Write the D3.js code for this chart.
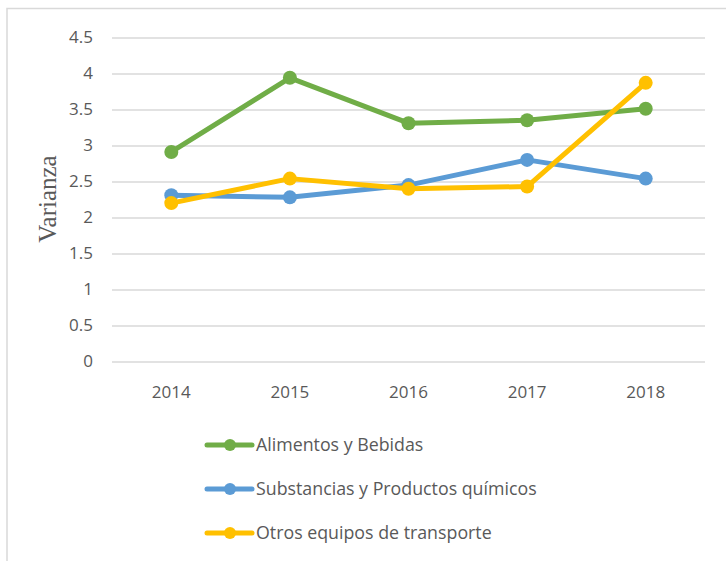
<!DOCTYPE html>
<html>
<head>
<meta charset="utf-8">
<script src="https://cdn.jsdelivr.net/npm/d3@7"></script>
<style>
  html, body { margin: 0; padding: 0; background: #fff; }
  svg { display: block; }
</style>
</head>
<body>
<svg id="chart" width="726" height="561"></svg>
<script>
const years = ["2014", "2015", "2016", "2017", "2018"];
const yTicks = [0, 0.5, 1, 1.5, 2, 2.5, 3, 3.5, 4, 4.5];
const seriesNames = ["Alimentos y Bebidas", "Substancias y Productos químicos", "Otros equipos de transporte"];
const alimentos = [2.91, 3.94, 3.31, 3.35, 3.51];
const substancias = [2.31, 2.28, 2.45, 2.80, 2.54];
const otros = [2.20, 2.54, 2.40, 2.43, 3.87];
const colors = ["#70AD47", "#5B9BD5", "#FFC000"];
const yLabel = "Varianza";

const series = [alimentos, substancias, otros].map((v, i) => ({ name: seriesNames[i], values: v, color: colors[i] }));

const svg = d3.select("#chart");
const textColor = "#595959";
const font = "'Open Sans', sans-serif";

// chart frame
svg.append("path")
  .attr("d", "M7,561 L7,8.5 L726,8.5")
  .attr("fill", "none").attr("stroke", "#d9d9d9").attr("stroke-width", 1.5);

const x = d3.scaleBand().domain(years).range([112, 705]);
const y = d3.scaleLinear().domain([0, 4.5]).range([361.5, 37.5]);

// gridlines
const yAxis = d3.axisLeft(y).tickValues(yTicks).tickSize(-(705 - 112)).tickPadding(19)
  .tickFormat(d => String(d));
const gy = svg.append("g").attr("transform", "translate(112,0)").call(yAxis);
gy.select(".domain").remove();
gy.selectAll(".tick line").attr("stroke", "#d9d9d9").attr("stroke-width", 1.5);
gy.selectAll(".tick text").attr("fill", textColor).style("font-family", font).style("font-size", "17px");

// x axis labels
const xAxis = d3.axisBottom(x).tickSize(0).tickPadding(24);
const gx = svg.append("g").attr("transform", "translate(0,361.5)").call(xAxis);
gx.select(".domain").remove();
gx.selectAll(".tick text").attr("fill", textColor).style("font-family", font).style("font-size", "17px");

// y label
svg.append("text")
  .attr("transform", "translate(56,199) rotate(-90)")
  .attr("text-anchor", "middle")
  .attr("fill", textColor)
  .style("font-family", "'Liberation Serif', 'Times New Roman', serif")
  .style("font-size", "25px")
  .text(yLabel);

// lines
const line = d3.line().x((d, i) => x(years[i]) + x.bandwidth() / 2).y(d => y(d));
series.forEach(s => {
  const g = svg.append("g");
  g.append("path").datum(s.values).attr("d", line)
    .attr("fill", "none").attr("stroke", s.color).attr("stroke-width", 5)
    .attr("stroke-linejoin", "round").attr("stroke-linecap", "round");
  g.selectAll("circle").data(s.values).join("circle")
    .attr("cx", (d, i) => x(years[i]) + x.bandwidth() / 2)
    .attr("cy", d => y(d))
    .attr("r", 7)
    .attr("fill", s.color);
});

// legend
const legendY = [445, 489, 533];
series.forEach((s, i) => {
  const g = svg.append("g").attr("transform", `translate(0,${legendY[i]})`);
  g.append("line").attr("x1", 207).attr("x2", 252).attr("y1", 0).attr("y2", 0)
    .attr("stroke", s.color).attr("stroke-width", 5).attr("stroke-linecap", "round");
  g.append("circle").attr("cx", 230).attr("cy", 0).attr("r", 6).attr("fill", s.color);
  g.append("text").attr("x", 256).attr("y", 0).attr("dy", "0.36em")
    .attr("fill", textColor).style("font-family", font).style("font-size", "17.8px")
    .text(s.name);
});
</script>
</body>
</html>
